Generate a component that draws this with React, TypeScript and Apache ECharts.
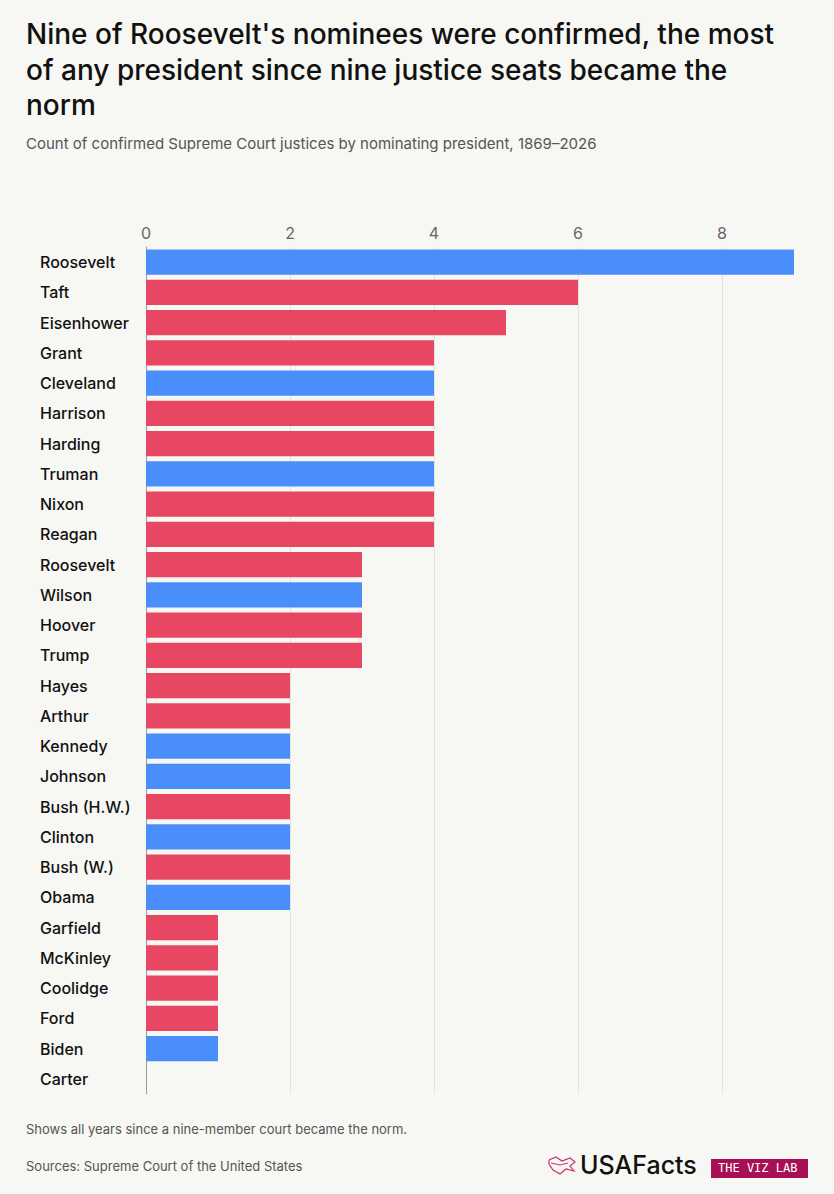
import React, { useEffect, useRef } from "react";
import * as echarts from "echarts";

const presidents = ["Roosevelt","Taft","Eisenhower","Grant","Cleveland","Harrison","Harding","Truman","Nixon","Reagan","Roosevelt","Wilson","Hoover","Trump","Hayes","Arthur","Kennedy","Johnson","Bush (H.W.)","Clinton","Bush (W.)","Obama","Garfield","McKinley","Coolidge","Ford","Biden","Carter"];
const counts = [9,6,5,4,4,4,4,4,4,4,3,3,3,3,2,2,2,2,2,2,2,2,1,1,1,1,1,0];
const parties = ["D","R","R","R","D","R","R","D","R","R","R","D","R","R","R","R","D","D","R","D","R","D","R","R","R","R","D","D"];
const xTicks = [0, 2, 4, 6, 8];

const BLUE = "#4A8EFC";
const RED = "#E84763";
const FONT = "Inter, 'Noto Sans', sans-serif";
const GRID = "#E3E3E0";

export default function App() {
  const ref = useRef<HTMLDivElement>(null);
  useEffect(() => {
    document.body.style.margin = "0";
    const chart = echarts.init(ref.current!, null, { renderer: "svg" });
    const idx = presidents.map((_, i) => String(i));
    chart.setOption({
      animation: false,
      backgroundColor: "#F7F7F3",
      textStyle: { fontFamily: FONT },
      grid: { left: 146, top: 247, width: 648, height: 847, containLabel: false },
      xAxis: {
        type: "value",
        position: "top",
        min: 0,
        max: 9,
        interval: 2,
        axisLine: { show: false },
        axisTick: { show: false },
        axisLabel: {
          color: "#666",
          fontSize: 16,
          fontFamily: FONT,
          margin: 6,
          formatter: (v: number) => (xTicks.includes(v) ? String(v) : ""),
        },
        splitLine: {
          show: true,
          lineStyle: { color: [...xTicks.map(() => GRID), "rgba(0,0,0,0)"], width: 1 },
        },
      },
      yAxis: {
        type: "category",
        inverse: true,
        data: idx,
        axisLine: { show: true, lineStyle: { color: "#9A9A9A", width: 1 } },
        axisTick: { show: false },
        axisLabel: {
          align: "left",
          margin: 106,
          color: "#111",
          fontSize: 16,
          fontWeight: 500,
          fontFamily: FONT,
          formatter: (v: string) => presidents[Number(v)],
        },
      },
      series: [
        {
          type: "bar",
          barCategoryGap: "17%",
          data: counts.map((c, i) => ({
            value: c,
            itemStyle: { color: parties[i] === "D" ? BLUE : RED },
          })),
        },
      ],
      graphic: [
        { type: "text", left: 26, top: 20, style: { text: "Nine of Roosevelt's nominees were confirmed, the most", font: `500 28px ${FONT}`, fill: "#111" } },
        { type: "text", left: 26, top: 56, style: { text: "of any president since nine justice seats became the", font: `500 28px ${FONT}`, fill: "#111" } },
        { type: "text", left: 26, top: 91, style: { text: "norm", font: `500 28px ${FONT}`, fill: "#111" } },
        { type: "text", left: 26, top: 136, style: { text: "Count of confirmed Supreme Court justices by nominating president, 1869–2026", font: `400 15px ${FONT}`, fill: "#555" } },
        { type: "text", left: 26, top: 1122, style: { text: "Shows all years since a nine-member court became the norm.", font: `400 13px ${FONT}`, fill: "#555" } },
        { type: "text", left: 26, top: 1159, style: { text: "Sources: Supreme Court of the United States", font: `400 13px ${FONT}`, fill: "#555" } },
        { type: "polyline", shape: { points: [[549,1160],[556,1157],[562,1161],[570,1158],[575,1162],[570,1166],[574,1171],[566,1169],[560,1174],[553,1170],[549,1164],[549,1160]] }, style: { stroke: "#C8306E", fill: "none", lineWidth: 1.2 } },
        { type: "polyline", shape: { points: [[551,1163],[560,1165],[568,1163]] }, style: { stroke: "#C8306E", fill: "none", lineWidth: 1 } },
        { type: "text", left: 580, top: 1152, style: { text: "USAFacts", font: `500 25px ${FONT}`, fill: "#111" } },
        { type: "rect", shape: { x: 711, y: 1159, width: 97, height: 19 }, style: { fill: "#A80F55" } },
        { type: "text", left: 718, top: 1162, style: { text: "THE VIZ LAB", font: `400 12px 'DejaVu Sans Mono', monospace`, fill: "#fff" } },
      ],
    });
    return () => chart.dispose();
  }, []);
  return <div ref={ref} style={{ width: 834, height: 1194 }} />;
}
